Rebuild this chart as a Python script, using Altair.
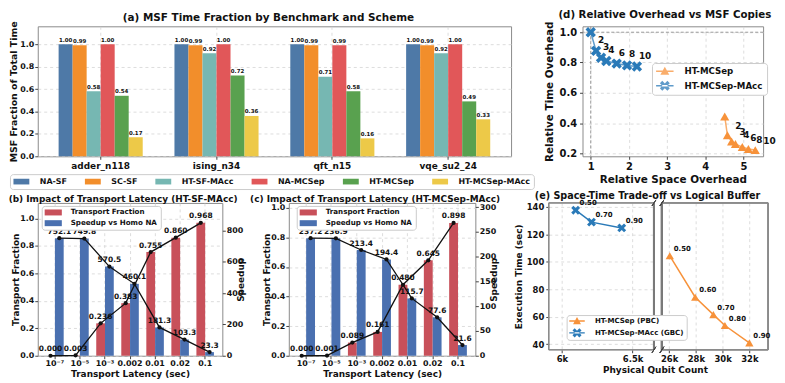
import math
import altair as alt
import pandas as pd

FONT = "DejaVu Sans"
INK = "#111111"
FRAME = "#8a8a8a"
GRID = "#d4d4d4"
LEG_STROKE = "#cccccc"

# ---------------- data ----------------
benchmarks = ["adder_n118", "ising_n34", "qft_n15", "vqe_su2_24"]
schemes = ["NA-SF", "SC-SF", "HT-SF-MAcc", "NA-MCSep", "HT-MCSep", "HT-MCSep-MAcc"]
msf_na_sf = [1.00, 1.00, 1.00, 1.00]
msf_sc_sf = [0.99, 0.99, 0.99, 0.99]
msf_ht_sf_macc = [0.58, 0.92, 0.71, 0.92]
msf_na_mcsep = [1.00, 1.00, 0.99, 1.00]
msf_ht_mcsep = [0.54, 0.72, 0.58, 0.49]
msf_ht_mcsep_macc = [0.17, 0.36, 0.16, 0.33]
scheme_colors = ["#4e79a7", "#f28e2b", "#76b7b2", "#e15759", "#59a14f", "#edc948"]

latencies = ["10⁻⁷", "10⁻⁵", "10⁻³", "0.002", "0.01", "0.02", "0.1"]
sf_transport_fraction = [0.000, 0.003, 0.236, 0.383, 0.755, 0.860, 0.968]
sf_speedup = [752.1, 749.8, 570.5, 460.1, 181.3, 103.3, 23.3]
mcsep_transport_fraction = [0.000, 0.001, 0.089, 0.161, 0.480, 0.645, 0.898]
mcsep_speedup = [237.2, 236.9, 213.4, 194.4, 115.7, 77.6, 21.6]
TF = "Transport Fraction"
SV = "Speedup vs Homo NA"
RED = "#c8505a"
BLUE = "#4a70b0"

msf_copies = [1, 2, 3, 4, 6, 8, 10]
mcsep_space = [4.51, 4.58, 4.69, 4.79, 4.97, 5.13, 5.31]
mcsep_time = [0.444, 0.320, 0.279, 0.262, 0.242, 0.229, 0.222]
macc_space = [1.00, 1.14, 1.27, 1.41, 1.68, 1.95, 2.21]
macc_time = [1.000, 0.877, 0.832, 0.810, 0.793, 0.781, 0.774]
D_SERIES = ["HT-MCSep", "HT-MCSep-MAcc"]
ORANGE = "#f7923a"
TBLUE = "#2a7ab8"

buffer_pbc = [0.50, 0.60, 0.70, 0.80, 0.90]
qubits_pbc = [26050, 27950, 29310, 30170, 32000]
time_pbc = [104.4, 74.2, 61.5, 53.6, 40.9]
buffer_gbc = [0.50, 0.70, 0.90]
qubits_gbc = [6097, 6209, 6423]
time_gbc = [137.6, 128.9, 124.7]
E_SERIES = ["HT-MCSep (PBC)", "HT-MCSep-MAcc (GBC)"]


# ---------------- symbol paths (style only) ----------------
def rect_path(hw, hh):
    return f"M{-hw:.3f},{-hh:.3f}H{hw:.3f}V{hh:.3f}H{-hw:.3f}Z"


def x_path(ext=1.0, t=0.32):
    pts = [(t, 1), (t, t), (1, t), (1, -t), (t, -t), (t, -1), (-t, -1), (-t, -t),
           (-1, -t), (-1, t), (-t, t), (-t, 1)]
    c = ext / (1 + t)
    rot = [((x - y) * c, (x + y) * c) for x, y in pts]
    return "M" + "L".join(f"{x:.3f},{y:.3f}" for x, y in rot) + "Z"


def tri_path(h):
    return f"M0,{-h * 1.05:.3f}L{h:.3f},{h * 0.8:.3f}H{-h:.3f}Z"


def line_plus(marker, half_len, half_w):
    return rect_path(half_len, half_w) + " " + marker


X_MARK = x_path(1.0)

# ---------------- (a) ----------------
msf_by_scheme = [msf_na_sf, msf_sc_sf, msf_ht_sf_macc, msf_na_mcsep, msf_ht_mcsep, msf_ht_mcsep_macc]
df_a = pd.DataFrame([
    {"bench": b, "scheme": s, "v": vals[i]}
    for s, vals in zip(schemes, msf_by_scheme)
    for i, b in enumerate(benchmarks)
])

A_W, A_H = 477, 131
xa = alt.X("bench:N", sort=benchmarks,
           scale=alt.Scale(domain=benchmarks, paddingInner=0.274, paddingOuter=0.18),
           axis=alt.Axis(title=None, labelAngle=0, labelFontSize=9, grid=True, bandPosition=0.5,
                         labelPadding=2))
xoa = alt.XOffset("scheme:N", sort=schemes,
                  scale=alt.Scale(domain=schemes, paddingInner=0, paddingOuter=0))
ya = alt.Y("v:Q", scale=alt.Scale(domain=[0, 1.16], nice=False),
           axis=alt.Axis(title="MSF Fraction of Total Time", values=[0, 0.2, 0.4, 0.6, 0.8, 1.0],
                         format=".1f", labelFontSize=8, titleFontSize=9.5, titleX=-19,
                         labelPadding=1, grid=True))
bars_a = alt.Chart(df_a).mark_bar().encode(
    x=xa, xOffset=xoa, y=ya,
    color=alt.Color("scheme:N", sort=schemes, scale=alt.Scale(domain=schemes, range=scheme_colors),
                    legend=alt.Legend(title=None, orient="none", legendX=-28, legendY=A_H + 18,
                                      direction="horizontal", columns=6,
                                      symbolType=rect_path(2.0, 0.72), symbolSize=64,
                                      symbolOffset=4, symbolStrokeWidth=0,
                                      labelFontSize=8, labelOffset=14.5, columnPadding=18,
                                      padding=3.5, strokeColor=LEG_STROKE, cornerRadius=3,
                                      fillColor="white")),
)
text_a = alt.Chart(df_a).mark_text(fontSize=5.5, fontWeight="bold", font=FONT, baseline="bottom",
                                   dy=-1.5, color=INK).encode(
    x=xa, xOffset=xoa, y=ya, text=alt.Text("v:Q", format=".2f"))
chart_a = alt.layer(bars_a, text_a).properties(
    width=A_W, height=A_H,
    title=alt.TitleParams("(a) MSF Time Fraction by Benchmark and Scheme", fontSize=10.5, dx=-6,
                          offset=-3, frame="group"),
    view=alt.ViewBackground(stroke=FRAME, strokeWidth=1),
)

# ---------------- (d) ----------------
df_d = pd.DataFrame({
    "series": [D_SERIES[0]] * len(msf_copies) + [D_SERIES[1]] * len(msf_copies),
    "copies": msf_copies + msf_copies,
    "space": mcsep_space + macc_space,
    "time": mcsep_time + macc_time,
})
df_d["label"] = df_d["copies"].apply(lambda c: "" if c == 1 else str(c))

D_W, D_H = 182, 131
xd = alt.X("space:Q", scale=alt.Scale(domain=[0.785, 5.515], nice=False, zero=False),
           axis=alt.Axis(values=[1, 2, 3, 4, 5], title="Relative Space Overhead", labelFontSize=10,
                         titleFontSize=10.5, grid=True, titlePadding=3, labelPadding=2))
yd = alt.Y("time:Q", scale=alt.Scale(domain=[0.181, 1.039], nice=False, zero=False),
           axis=alt.Axis(values=[0.2, 0.4, 0.6, 0.8, 1.0], format=".1f", title="Relative Time Overhead",
                         labelFontSize=10, titleFontSize=10.5, grid=True, titleX=-28, labelPadding=3))
leg_d = alt.Legend(title=None, orient="none", legendX=70, legendY=37, symbolSize=64,
                   symbolOffset=4.6, symbolStrokeWidth=0, labelFontSize=8.7, labelOffset=15.5,
                   rowPadding=3.6, padding=4, strokeColor=LEG_STROKE, cornerRadius=3, fillColor="white")
cd = alt.Color("series:N", scale=alt.Scale(domain=D_SERIES, range=[ORANGE, TBLUE]), legend=leg_d)

ref_df = pd.DataFrame({"space": [1.0], "time": [1.0]})
ref_v = alt.Chart(ref_df).mark_rule(color="#9a9a9a", strokeDash=[3, 2], strokeWidth=1).encode(x=xd)
ref_h = alt.Chart(ref_df).mark_rule(color="#9a9a9a", strokeDash=[3, 2], strokeWidth=1).encode(y=yd)
lines_d = alt.Chart(df_d).mark_line(strokeWidth=1.5, opacity=0.75).encode(
    x=xd, y=yd, color=cd, detail="series:N", order="copies:Q")
pts_sep = alt.Chart(df_d).transform_filter(alt.datum.series == D_SERIES[0]).mark_point(
    shape="triangle-up", filled=True, size=85, opacity=1).encode(x=xd, y=yd, color=cd)
pts_macc = alt.Chart(df_d).transform_filter(alt.datum.series == D_SERIES[1]).mark_point(
    shape=X_MARK, filled=True, size=110, opacity=1).encode(x=xd, y=yd, color=cd)
lab_sep = alt.Chart(df_d).transform_filter(alt.datum.series == D_SERIES[0]).mark_text(
    align="left", baseline="middle", dx=8, dy=-9, fontSize=9, fontWeight="bold", font=FONT,
    color=INK).encode(x=xd, y=yd, text="label:N")
lab_macc = alt.Chart(df_d).transform_filter(alt.datum.series == D_SERIES[1]).mark_text(
    align="left", baseline="middle", dx=2, dy=-11, fontSize=9, fontWeight="bold", font=FONT,
    color=INK).encode(x=xd, y=yd, text="label:N")
legend_d = alt.Chart(df_d).transform_filter("false").mark_point(filled=True, opacity=1).encode(
    x=xd, y=yd, color=cd,
    shape=alt.Shape("series:N", scale=alt.Scale(
        domain=D_SERIES,
        range=[line_plus(tri_path(1.12), 2.2, 0.19), line_plus(x_path(1.25), 2.2, 0.19)]),
        legend=leg_d),
)
chart_d = alt.layer(ref_v, ref_h, lines_d, pts_sep, pts_macc, lab_sep, lab_macc, legend_d).properties(
    width=D_W, height=D_H,
    title=alt.TitleParams("(d) Relative Overhead vs MSF Copies", fontSize=10.3, dx=-8, offset=-3,
                          frame="group"),
    view=alt.ViewBackground(stroke=FRAME, strokeWidth=1),
)


# ---------------- (b), (c) ----------------
def latency_panel(frac, speed, title_text, yl_max, yr_max, yr_values, width, leg_x):
    df = pd.DataFrame({
        "lat": latencies + latencies,
        "series": [TF] * len(latencies) + [SV] * len(latencies),
        "v": list(frac) + list(speed),
    })
    base = alt.Chart(df)
    x = alt.X("lat:N", sort=latencies,
              scale=alt.Scale(domain=latencies, paddingInner=0.3, paddingOuter=0.335),
              axis=alt.Axis(title="Transport Latency (sec)", labelAngle=0, labelFontSize=8,
                            titleFontSize=9, grid=True, bandPosition=0.5, labelPadding=1, titlePadding=2))
    xo = alt.XOffset("series:N", scale=alt.Scale(domain=[TF, SV], paddingInner=0, paddingOuter=0))
    color = alt.Color("series:N", scale=alt.Scale(domain=[TF, SV], range=[RED, BLUE]),
                      legend=alt.Legend(title=None, orient="none", legendX=leg_x, legendY=3,
                                        symbolType=rect_path(2.47, 0.86), symbolSize=49,
                                        symbolOffset=5, symbolStrokeWidth=0, labelFontSize=7.2,
                                        labelOffset=14, rowPadding=2.8, padding=3,
                                        strokeColor=LEG_STROKE, cornerRadius=3, fillColor="white"))
    yl_scale = alt.Scale(domain=[0, yl_max], nice=False)
    yl = alt.Y("v:Q", scale=yl_scale,
               axis=alt.Axis(title="Transport Fraction", values=[0, 0.2, 0.4, 0.6, 0.8, 1.0], format=".1f",
                             grid=True, labelFontSize=8, titleFontSize=9, titleX=-17, labelPadding=1))
    yl0 = alt.Y("v:Q", scale=yl_scale, axis=None)
    yr_scale = alt.Scale(domain=[0, yr_max], nice=False)
    yr = alt.Y("v:Q", scale=yr_scale,
               axis=alt.Axis(orient="right", title="Speedup", values=yr_values, format="d", grid=False,
                             labelFontSize=8, titleFontSize=9, titlePadding=3, labelPadding=1,
                             titleAngle=270))
    f = base.transform_filter(alt.datum.series == TF)
    s = base.transform_filter(alt.datum.series == SV)
    lbl = dict(fontSize=7.5, fontWeight="bold", font=FONT, baseline="bottom", dy=-2.5, color=INK)
    left_bars = f.mark_bar().encode(x=x, xOffset=xo, y=yl, color=color)
    right_all = alt.layer(
        s.mark_bar().encode(x=x, xOffset=xo, y=yr, color=color),
        s.mark_line(color=INK, strokeWidth=1.3).encode(x=x, xOffset=xo, y=yr),
        s.mark_circle(color=INK, size=18, opacity=1).encode(x=x, xOffset=xo, y=yr),
        s.mark_text(**lbl).encode(x=x, xOffset=xo, y=yr, text=alt.Text("v:Q", format=".1f")),
    )
    left_lines = alt.layer(
        f.mark_line(color=INK, strokeWidth=1.3).encode(x=x, xOffset=xo, y=yl0),
        f.mark_circle(color=INK, size=18, opacity=1).encode(x=x, xOffset=xo, y=yl0),
        f.mark_text(**lbl).encode(x=x, xOffset=xo, y=yl0, text=alt.Text("v:Q", format=".3f")),
    )
    return alt.layer(left_bars, right_all, left_lines).resolve_scale(y="independent").properties(
        width=width, height=154,
        title=alt.TitleParams(title_text, fontSize=9, dx=-7, offset=-1, frame="group"),
        view=alt.ViewBackground(stroke=FRAME, strokeWidth=1),
    )


chart_b = latency_panel(sf_transport_fraction, sf_speedup, "(b) Impact of Transport Latency (HT-SF-MAcc)",
                        1.113, 977.7, [0, 200, 400, 600, 800], 186, 4)
chart_c = latency_panel(mcsep_transport_fraction, mcsep_speedup,
                        "(c) Impact of Transport Latency (HT-MCSep-MAcc)",
                        1.033, 308.4, [0, 50, 100, 150, 200, 250, 300], 188, 8)

# ---------------- (e) ----------------
E_W, E_H = 221, 148
Y_E = [35.9, 142.9]
GX = [5907, 6651]
PX = [25460, 33400]
df_g = pd.DataFrame({"q": qubits_gbc, "t": time_gbc, "buf": buffer_gbc, "series": E_SERIES[1]})
df_p = pd.DataFrame({"q": qubits_pbc, "t": time_pbc, "buf": buffer_pbc, "series": E_SERIES[0]})
yscale_e = alt.Scale(domain=Y_E, nice=False, zero=False)
y_axis_e = alt.Axis(values=[40, 60, 80, 100, 120, 140], title="Execution Time (sec)", grid=True,
                    labelFontSize=8.5, titleFontSize=9, titleX=-25, labelPadding=2)
gscale = alt.Scale(domain=GX, range=[0, 106], nice=False, zero=False)
pscale = alt.Scale(domain=PX, range=[114, E_W], nice=False, zero=False)
g_axis = alt.Axis(values=[6000, 6500], labelExpr="datum.value == 6000 ? '6k' : '6.5k'",
                  orient="bottom", title="Physical Qubit Count", titleX=107, grid=True,
                  labelFontSize=8.5, titleFontSize=9, titlePadding=2, labelPadding=2)
p_axis = alt.Axis(values=[26000, 28000, 30000, 32000], labelExpr="(datum.value / 1000) + 'k'",
                  orient="bottom", title=None, grid=True, labelFontSize=8.5, labelPadding=2)
ye = alt.Y("t:Q", scale=yscale_e, axis=y_axis_e)
xg = alt.X("q:Q", scale=gscale, axis=g_axis)
xp = alt.X("q:Q", scale=pscale, axis=p_axis)
leg_e = alt.Legend(title=None, orient="none", legendX=18, legendY=113, symbolSize=49,
                   symbolOffset=4.4, symbolStrokeWidth=0, labelFontSize=7.1, labelOffset=14.5,
                   rowPadding=3.9, padding=2.5, strokeColor=LEG_STROKE, cornerRadius=3, fillColor="white")
ce = alt.Color("series:N", scale=alt.Scale(domain=E_SERIES, range=[ORANGE, TBLUE]), legend=leg_e)
elbl = dict(align="left", baseline="middle", dx=4, dy=-7, fontSize=7, fontWeight="bold", font=FONT, color=INK)


def frame_layers(df, scale, axis, lo, hi, inner, dxu):
    ys = dict(y=alt.Y(datum=Y_E[0], scale=yscale_e, axis=y_axis_e), y2=alt.datum(Y_E[1]))
    frame = alt.Chart(df).mark_rect(fillOpacity=0, stroke=FRAME, strokeWidth=1).encode(
        x=alt.X(datum=lo, scale=scale, axis=axis), x2=alt.datum(hi), **ys)
    spine = alt.Chart(df).mark_rule(color="#7a7a7a", strokeWidth=2).encode(
        x=alt.X(datum=inner, scale=scale, axis=axis), **ys)
    dyu = 2.2
    brk_top = alt.Chart(df).mark_rule(color="#444444", strokeWidth=1).encode(
        x=alt.X(datum=inner - dxu, scale=scale, axis=axis), x2=alt.datum(inner + dxu),
        y=alt.Y(datum=Y_E[1] - dyu, scale=yscale_e, axis=y_axis_e), y2=alt.datum(Y_E[1] + dyu))
    brk_bot = alt.Chart(df).mark_rule(color="#444444", strokeWidth=1).encode(
        x=alt.X(datum=inner - dxu, scale=scale, axis=axis), x2=alt.datum(inner + dxu),
        y=alt.Y(datum=Y_E[0] - dyu, scale=yscale_e, axis=y_axis_e), y2=alt.datum(Y_E[0] + dyu))
    return [frame, spine, brk_top, brk_bot]


grp_g = alt.layer(
    *frame_layers(df_g, gscale, g_axis, GX[0], GX[1], GX[1], 14),
    alt.Chart(df_g).mark_line(strokeWidth=1.5).encode(x=xg, y=ye, color=ce),
    alt.Chart(df_g).mark_point(shape=X_MARK, filled=True, size=80, opacity=1).encode(x=xg, y=ye, color=ce),
    alt.Chart(df_g).mark_text(**elbl).encode(x=xg, y=ye, text=alt.Text("buf:Q", format=".2f")),
)
grp_p = alt.layer(
    *frame_layers(df_p, pscale, p_axis, PX[0], PX[1], PX[0], 150),
    alt.Chart(df_p).mark_line(strokeWidth=1.5).encode(x=xp, y=ye, color=ce),
    alt.Chart(df_p).mark_point(shape="triangle-up", filled=True, size=70, opacity=1).encode(x=xp, y=ye, color=ce),
    alt.Chart(df_p).mark_text(**elbl).encode(x=xp, y=ye, text=alt.Text("buf:Q", format=".2f")),
    alt.Chart(df_p).transform_filter("false").mark_point(filled=True, opacity=1).encode(
        x=xp, y=ye, color=ce,
        shape=alt.Shape("series:N", scale=alt.Scale(
            domain=E_SERIES,
            range=[line_plus(tri_path(1.14), 2.23, 0.2), line_plus(x_path(1.3), 2.23, 0.2)]),
            legend=leg_e)),
)
chart_e = alt.layer(grp_g, grp_p).resolve_scale(x="independent").properties(
    width=E_W, height=E_H,
    title=alt.TitleParams("(e) Space-Time Trade-off vs Logical Buffer", fontSize=9.7, dx=-11, offset=-1,
                          frame="group"),
    view=alt.ViewBackground(stroke="transparent"),
)


# ---------------- layout ----------------
def spacer(w):
    return alt.Chart(pd.DataFrame({"s": [0]})).mark_text(text="").properties(
        width=w, height=10, view=alt.ViewBackground(stroke="transparent", fill="transparent"))


IND = dict(color="independent", shape="independent", xOffset="independent")
row1 = alt.hconcat(chart_a, spacer(72), chart_d, spacing=0, bounds="flush").resolve_scale(**IND)
row2 = alt.hconcat(chart_b, spacer(67), chart_c, spacer(74), chart_e, spacing=0,
                   bounds="flush").resolve_scale(**IND)

chart = alt.vconcat(row1, row2, spacing=0).resolve_scale(**IND).properties(
    padding={"left": 0, "top": 0, "right": 0, "bottom": 0}, background="white"
).configure(
    font=FONT
).configure_view(stroke="transparent").configure_axis(
    labelFont=FONT, titleFont=FONT, labelFontWeight="bold", titleFontWeight="bold",
    labelColor=INK, titleColor=INK, tickColor="#444444", tickSize=3, domain=False,
    gridColor=GRID, gridDash=[3, 3], gridWidth=0.8,
).configure_legend(
    labelFont=FONT, labelFontWeight="bold", labelColor=INK,
).configure_title(
    font=FONT, fontWeight="bold", color=INK, anchor="middle",
)

chart.save("out.html", embed_options={"renderer": "svg", "actions": False})
